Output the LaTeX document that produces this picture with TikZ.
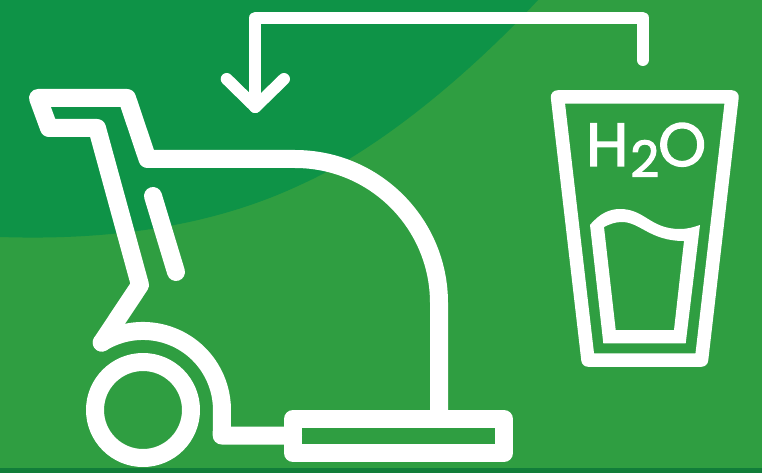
\documentclass[tikz,border=0pt]{standalone}
\usepackage{xcolor}
\usepackage{fontspec}
\setmainfont[FakeBold=2.2]{Poppins}
\definecolor{cGround}{HTML}{2F9E41}
\definecolor{cShade}{HTML}{0E9347}
\definecolor{cStrip}{HTML}{117E3A}
\usetikzlibrary{positioning}
\tikzset{
  line-body/.style={draw=white,line width=18pt,line join=round,line cap=round},
  line-flow/.style={draw=white,line width=12pt,line join=round,line cap=round},
  line-glass/.style={draw=white,line width=13.5pt,line join=round},
  label-water/.style={text=white,inner sep=0pt,anchor=base west,font=\fontsize{61}{61}\selectfont},
}
\begin{document}
\begin{tikzpicture}[x=1pt,y=-1pt]
  \useasboundingbox (0,0) rectangle (762,473);
  \fill[cGround] (0,0) rectangle (762,473);
  \fill[cShade] (0,0) -- (538,0) .. controls (478,65) and (385,147) .. (300,185)
    .. controls (200,232) and (90,240) .. (0,237) -- cycle;
  \fill[cStrip] (0,468) rectangle (762,473);
  % scrubber
  \draw[line-body] (101.7,342.6) -- (140,285) -- (97,128) -- (49,128) -- (38,98)
    -- (127,98) -- (147.5,159) -- (295,159) arc[start angle=-90,end angle=0,radius=144]
    -- (439,419);
  \draw[line-body] (101.7,342.6) arc[start angle=-121.5,end angle=0,radius=79]
    -- (221.7,435.5) -- (293,435.5);
  \draw[line-body] (153,196) -- (176,272);
  \draw[line-body] (143,410) circle[radius=48];
  \draw[line-body] (293,419) rectangle (504,453);
  % return line
  \coordinate (tap) at (642.7,60);
  \coordinate (inlet) at (255.3,107);
  \draw[line-flow] (tap) -- (642.7,17.7) -- (255.3,17.7) -- (inlet);
  \draw[line-flow] (226.7,79) -- (inlet) -- (284,79);
  % glass
  \draw[line-glass] (557.5,97) -- (732,97) -- (701.5,360) -- (588,360) -- cycle;
  \fill[white,even odd rule] (590,225) .. controls (600,213) and (610,209) .. (620,209)
    .. controls (645,209) and (650,229) .. (680,229) .. controls (688,229) and (694,227) .. (700,225)
    -- (685.7,343.3) -- (603.3,343.3) -- cycle
    (604,227) .. controls (610,224) and (615,222) .. (622,222)
    .. controls (640,222) and (650,241) .. (684,241)
    -- (674,330) -- (615.7,330) -- cycle;
  \node[label-water] (water) at (586,166)
    {H\kern2pt\raisebox{-11pt}{\fontsize{50}{50}\selectfont 2}\kern-1pt O};
\end{tikzpicture}
\end{document}
